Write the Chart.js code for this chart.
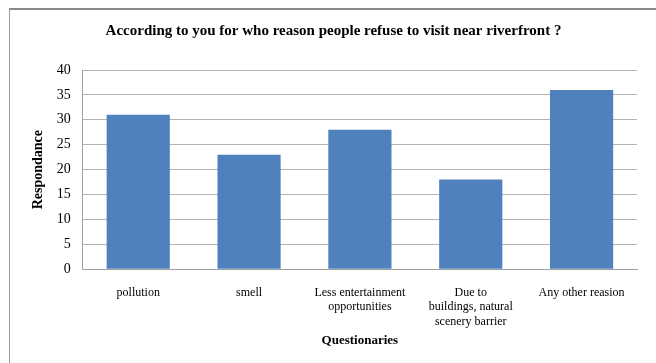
<!DOCTYPE html>
<html>
<head>
<meta charset="utf-8">
<script src="https://cdn.jsdelivr.net/npm/chart.js@4/dist/chart.umd.min.js"></script>
<style>
  html, body { margin: 0; padding: 0; background: #fff; }
  #wrap { position: relative; width: 656px; height: 363px; overflow: hidden; }
  #frame { position: absolute; left: 9px; top: 8px; width: 700px; height: 400px;
           border-left: 1px solid #9a9a9a; border-top: 2px solid #8a8a8a; }
  canvas { position: absolute; left: 0; top: 0; }
</style>
</head>
<body>
<div id="wrap">
  <div id="frame"></div>
  <canvas id="c" width="656" height="363"></canvas>
</div>
<script>
const categories = [
  "pollution",
  "smell",
  ["Less entertainment", "opportunities"],
  ["Due to", "buildings, natural", "scenery barrier"],
  "Any other reasion"
];
const values = [31, 23, 28, 18, 36];
const yTicks = [0, 5, 10, 15, 20, 25, 30, 35, 40];

const serif = "'Liberation Serif', 'Times New Roman', serif";

new Chart(document.getElementById('c'), {
  type: 'bar',
  data: {
    labels: categories,
    datasets: [{
      data: values,
      backgroundColor: '#4f81bd',
      borderWidth: 0,
      barPercentage: 0.57,
      categoryPercentage: 1.0
    }]
  },
  options: {
    responsive: false,
    animation: false,
    devicePixelRatio: 1,
    layout: { padding: { left: 30, right: 19, top: 14, bottom: 15 } },
    plugins: {
      legend: { display: false },
      tooltip: { enabled: false },
      title: {
        display: true,
        text: 'According to you for who reason people refuse to visit near riverfront ?',
        color: '#000',
        font: { family: serif, size: 15, weight: 'bold' },
        padding: { top: 8, bottom: 30 }
      }
    },
    scales: {
      x: {
        grid: { display: false, drawTicks: false },
        border: { color: '#a0a0a0', width: 1 },
        ticks: {
          color: '#000',
          font: { family: serif, size: 12, lineHeight: 1.17 },
          maxRotation: 0,
          autoSkip: false,
          padding: 17
        },
        title: {
          display: true,
          text: 'Questionaries',
          color: '#000',
          font: { family: serif, size: 13, weight: 'bold' },
          padding: { top: -13, bottom: 0 }
        }
      },
      y: {
        min: 0,
        max: 40,
        afterBuildTicks: (axis) => { axis.ticks = yTicks.map(v => ({ value: v })); },
        grid: { color: '#b3b3b3', lineWidth: 1, drawTicks: false },
        border: { color: '#a0a0a0', width: 1 },
        ticks: {
          color: '#000',
          font: { family: serif, size: 14 },
          padding: 12
        },
        title: {
          display: true,
          text: 'Respondance',
          color: '#000',
          font: { family: serif, size: 14, weight: 'bold' },
          padding: { top: 0, bottom: -2 }
        }
      }
    }
  }
});
</script>
</body>
</html>
